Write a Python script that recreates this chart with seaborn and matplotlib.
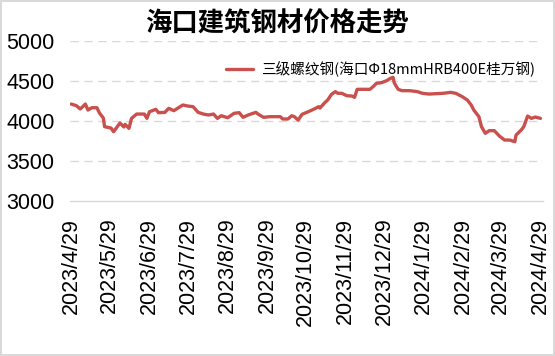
import matplotlib
matplotlib.use("Agg")
import matplotlib.pyplot as plt
import numpy as np
import pandas as pd
import seaborn as sns

title = "海口建筑钢材价格走势"
series_name = "三级螺纹钢(海口Φ18mmHRB400E桂万钢)"

dates = [
    "2023-04-29", "2023-05-03", "2023-05-06", "2023-05-10", "2023-05-12", "2023-05-15",
    "2023-05-19", "2023-05-21", "2023-05-24", "2023-05-25", "2023-05-30", "2023-06-01",
    "2023-06-06", "2023-06-09", "2023-06-10", "2023-06-13", "2023-06-15", "2023-06-19",
    "2023-06-25", "2023-06-27", "2023-06-29", "2023-07-04", "2023-07-06", "2023-07-11",
    "2023-07-14", "2023-07-18", "2023-07-25", "2023-07-29", "2023-08-02", "2023-08-06",
    "2023-08-10", "2023-08-14", "2023-08-18", "2023-08-21", "2023-08-24", "2023-08-29",
    "2023-09-03", "2023-09-07", "2023-09-10", "2023-09-14", "2023-09-20", "2023-09-22",
    "2023-09-26", "2023-10-01", "2023-10-09", "2023-10-11", "2023-10-15", "2023-10-18",
    "2023-10-20", "2023-10-23", "2023-10-26", "2023-10-31", "2023-11-04", "2023-11-08",
    "2023-11-09", "2023-11-13", "2023-11-15", "2023-11-18", "2023-11-21", "2023-11-23",
    "2023-11-26", "2023-11-30", "2023-12-04", "2023-12-06", "2023-12-08", "2023-12-12",
    "2023-12-18", "2023-12-21", "2023-12-23", "2023-12-27", "2023-12-31", "2024-01-03",
    "2024-01-05", "2024-01-06", "2024-01-09", "2024-01-12", "2024-01-18", "2024-01-24",
    "2024-01-28", "2024-02-02", "2024-02-13", "2024-02-19", "2024-02-23", "2024-02-28",
    "2024-03-03", "2024-03-06", "2024-03-08", "2024-03-12", "2024-03-14", "2024-03-17",
    "2024-03-20", "2024-03-24", "2024-03-28", "2024-04-01", "2024-04-05", "2024-04-09",
    "2024-04-10", "2024-04-14", "2024-04-16", "2024-04-19", "2024-04-22", "2024-04-25",
    "2024-04-29",
]
prices = [
    4212, 4191, 4150, 4212, 4137, 4166,
    4166, 4100, 4037, 3929, 3912, 3866,
    3975, 3925, 3958, 3908, 4033, 4087,
    4087, 4033, 4116, 4146, 4104, 4108,
    4158, 4129, 4200, 4187, 4179, 4108,
    4087, 4075, 4087, 4033, 4066, 4041,
    4096, 4104, 4046, 4075, 4108, 4083,
    4046, 4054, 4054, 4025, 4025, 4066,
    4054, 4012, 4083, 4117, 4146, 4179,
    4162, 4233, 4262, 4333, 4367, 4346,
    4346, 4316, 4312, 4296, 4396, 4396,
    4396, 4437, 4471, 4479, 4504, 4533,
    4546, 4475, 4396, 4379, 4379, 4367,
    4346, 4337, 4346, 4358, 4346, 4304,
    4262, 4200, 4137, 4054, 3929, 3846,
    3879, 3879, 3812, 3762, 3762, 3741,
    3825, 3887, 3929, 4062, 4033, 4050,
    4033,
]
tick_dates = pd.date_range("2023-04-29", periods=13, freq=pd.DateOffset(months=1))
tick_labels = [f"{d.year}/{d.month}/{d.day}" for d in tick_dates]
y_ticks = [3000, 3500, 4000, 4500, 5000]

sns.set_theme(style="white")
plt.rcParams['font.family'] = ['Liberation Sans', 'Noto Sans CJK SC', 'DejaVu Sans']

df = pd.DataFrame({"date": pd.to_datetime(dates), "price": prices})

fig = plt.figure(figsize=(5.55, 3.56), dpi=100)
fig.patch.set_facecolor("white")
fig.patch.set_edgecolor("#D9D9D9")
fig.patch.set_linewidth(1.5)
ax = fig.add_axes([70 / 555, 1 - 201 / 356, (543 - 70) / 555, 160 / 356])

sns.lineplot(data=df, x="date", y="price", ax=ax, color="#C9504D",
             linewidth=2.4, label=series_name)

ax.set_ylim(3000, 5000)
ax.set_yticks(y_ticks)
ax.set_xlim(tick_dates[0] - pd.Timedelta(days=1), tick_dates[-1] + pd.Timedelta(days=2))
ax.set_xticks(tick_dates)
ax.set_xticklabels(tick_labels, rotation=90, fontsize=15.5)
ax.tick_params(axis="y", labelsize=15.5, length=0, pad=11, labelcolor="black")
ax.tick_params(axis="x", length=0, pad=12, labelcolor="black")
ax.set_xlabel("")
ax.set_ylabel("")

for v in y_ticks[1:]:
    ax.axhline(v, color="#D9D9D9", linewidth=1, linestyle=(0, (6, 4)), zorder=0)
for s in ["left", "right", "top"]:
    ax.spines[s].set_visible(False)
ax.spines["bottom"].set_color("#D9D9D9")
ax.spines["bottom"].set_linewidth(1)

leg = ax.legend(loc="center right", bbox_to_anchor=(542 / 555, 1 - 69 / 356),
                bbox_transform=fig.transFigure, frameon=False, borderpad=0,
                handlelength=1.9, handletextpad=0.5,
                prop={"family": ["Noto Sans CJK SC"], "size": 10.5})
for t in leg.get_texts():
    t.set_color("black")

fig.text(277 / 555, 1 - 24 / 356, title, ha="center", va="center", color="black",
         fontsize=19, fontweight="bold", family=["Noto Sans CJK SC"])

fig.savefig("out.png", dpi=100, facecolor=fig.get_facecolor(), edgecolor=fig.get_edgecolor())
